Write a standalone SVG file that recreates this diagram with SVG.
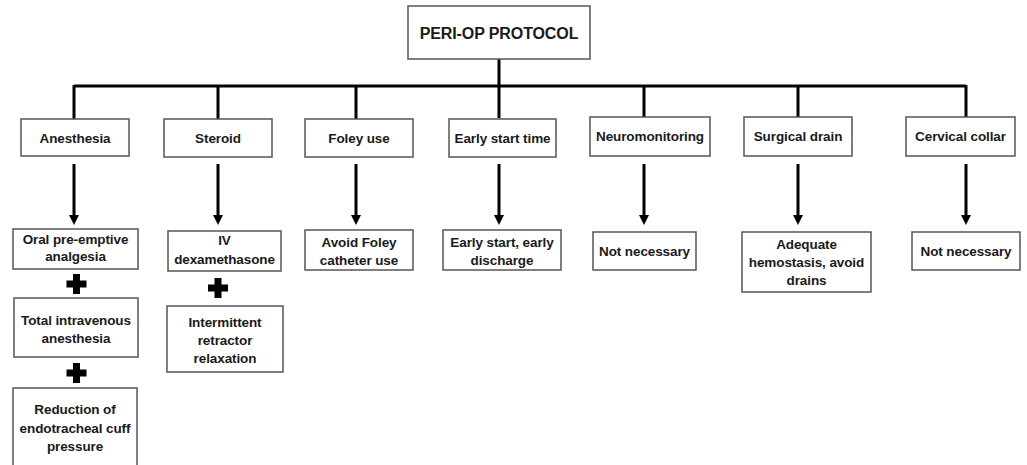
<svg xmlns="http://www.w3.org/2000/svg" width="1027" height="465" viewBox="0 0 1027 465">
<defs>
<style>
.box{fill:#fff;stroke:#555;stroke-width:1.5}
.t{font-family:"Liberation Sans",Arial,sans-serif;font-weight:bold;font-size:13.5px;fill:#1a1a1a;text-anchor:middle;letter-spacing:-0.1px}
.title{font-size:16px}
.ln{stroke:#000;stroke-width:3;fill:none}
.plus{fill:#000}
</style>
<path id="pl" d="M-3.5,-10 H3.5 V-3.5 H10 V3.5 H3.5 V10 H-3.5 V3.5 H-10 V-3.5 H-3.5 Z"/>
<path id="ah" d="M-5,-10 H5 L0,0 Z"/>
</defs>
<rect width="1027" height="465" fill="#fff"/>
<g id="connectors">
<path class="ln" d="M499,59 V86 M74,86 H966 M74,85 V119 M218,85 V119 M356,85 V119 M499,85 V118 M644,85 V117 M798,85 V117 M966,85 V117"/>
<path class="ln" d="M74,164 V216 M218,164 V216 M356,164 V216 M499,164 V216 M644,164 V216 M798,164 V216 M966,164 V216"/>
<g fill="#000">
<use href="#ah" x="74" y="225"/>
<use href="#ah" x="218" y="225"/>
<use href="#ah" x="356" y="225"/>
<use href="#ah" x="499" y="225"/>
<use href="#ah" x="644" y="225"/>
<use href="#ah" x="798" y="225"/>
<use href="#ah" x="966" y="225"/>
</g>
<use href="#pl" class="plus" x="76.5" y="284"/>
<use href="#pl" class="plus" x="76.5" y="373"/>
<use href="#pl" class="plus" x="218" y="288"/>
</g>
<g id="n-root"><rect class="box" x="408" y="6" width="182" height="53"/><text class="t title" x="499" y="39">PERI-OP PROTOCOL</text></g>
<g id="n-anesthesia"><rect class="box" x="21" y="119" width="108" height="37"/><text class="t" x="75" y="143">Anesthesia</text></g>
<g id="n-steroid"><rect class="box" x="164" y="119" width="108" height="38"/><text class="t" x="218" y="143">Steroid</text></g>
<g id="n-foley"><rect class="box" x="305" y="119" width="108" height="38"/><text class="t" x="359" y="143">Foley use</text></g>
<g id="n-early"><rect class="box" x="449" y="119" width="107" height="38"/><text class="t" x="502.5" y="143">Early start time</text></g>
<g id="n-neuro"><rect class="box" x="590" y="117" width="120" height="39"/><text class="t" x="650" y="141">Neuromonitoring</text></g>
<g id="n-drain"><rect class="box" x="744" y="117" width="108" height="39"/><text class="t" x="798" y="141">Surgical drain</text></g>
<g id="n-collar"><rect class="box" x="906" y="117" width="109" height="39"/><text class="t" x="960.5" y="141">Cervical collar</text></g>
<g id="n-oral"><rect class="box" x="13" y="229" width="125" height="40"/><text class="t" x="75.5" y="244">Oral pre-emptive</text><text class="t" x="75.5" y="261">analgesia</text></g>
<g id="n-tiva"><rect class="box" x="14" y="298" width="124" height="59"/><text class="t" x="76" y="325">Total intravenous</text><text class="t" x="76" y="343">anesthesia</text></g>
<g id="n-cuff"><rect class="box" x="13" y="388" width="124" height="84"/><text class="t" x="75" y="414">Reduction of</text><text class="t" x="75" y="433">endotracheal cuff</text><text class="t" x="75" y="451">pressure</text></g>
<g id="n-dexa"><rect class="box" x="168" y="231" width="113" height="40"/><text class="t" x="224.5" y="245">IV</text><text class="t" x="224.5" y="264">dexamethasone</text></g>
<g id="n-retractor"><rect class="box" x="167" y="306" width="116" height="66"/><text class="t" x="225" y="327">Intermittent</text><text class="t" x="225" y="345">retractor</text><text class="t" x="225" y="363">relaxation</text></g>
<g id="n-avoidfoley"><rect class="box" x="305" y="230" width="108" height="40"/><text class="t" x="359" y="247">Avoid Foley</text><text class="t" x="359" y="265">catheter use</text></g>
<g id="n-earlystart"><rect class="box" x="443" y="230" width="118" height="40"/><text class="t" x="502" y="247">Early start, early</text><text class="t" x="502" y="265">discharge</text></g>
<g id="n-notneuro"><rect class="box" x="593" y="232" width="103" height="38"/><text class="t" x="644.5" y="256">Not necessary</text></g>
<g id="n-hemostasis"><rect class="box" x="742" y="232" width="129" height="60"/><text class="t" x="806.5" y="249">Adequate</text><text class="t" x="806.5" y="267">hemostasis, avoid</text><text class="t" x="806.5" y="285">drains</text></g>
<g id="n-notcollar"><rect class="box" x="912" y="232" width="108" height="38"/><text class="t" x="966" y="256">Not necessary</text></g>
</svg>
